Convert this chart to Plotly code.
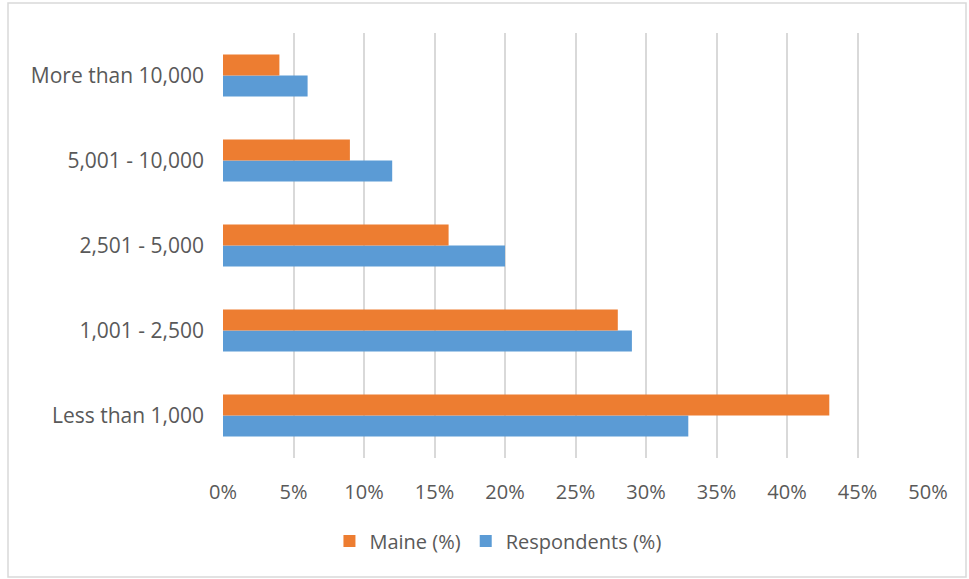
import plotly.graph_objects as go

categories = ["Less than 1,000", "1,001 - 2,500", "2,501 - 5,000", "5,001 - 10,000", "More than 10,000"]
maine_pct = [43, 28, 16, 9, 4]
respondents_pct = [33, 29, 20, 12, 6]
tick_vals = [0, 5, 10, 15, 20, 25, 30, 35, 40, 45, 50]
tick_text = [f"{v}%" for v in tick_vals]

ORANGE = "#ED7D31"
BLUE = "#5B9BD5"
TEXT = "#595959"
GRID = "#D9D9D9"
FONT = "Open Sans, Noto Sans, sans-serif"

fig = go.Figure()
fig.add_trace(go.Bar(
    y=categories, x=respondents_pct, orientation="h",
    name="Respondents (%)", marker=dict(color=BLUE, line=dict(width=0)),
))
fig.add_trace(go.Bar(
    y=categories, x=maine_pct, orientation="h",
    name="Maine (%)", marker=dict(color=ORANGE, line=dict(width=0)),
))

W, H = 969, 579
L, R, T, B = 223, 41, 33, 121
pw, ph = W - L - R, H - T - B

def px_x(x):
    return (x - L) / pw

def px_y(y):
    return (H - B - y) / ph

fig.update_layout(
    width=W, height=H,
    margin=dict(l=L, r=R, t=T, b=B),
    paper_bgcolor="white", plot_bgcolor="white",
    barmode="group", bargap=0.505, bargroupgap=0,
    font=dict(family=FONT, size=20, color=TEXT),
    showlegend=True,
    legend=dict(
        orientation="h", traceorder="reversed",
        x=0.39, xanchor="center", y=px_y(541), yanchor="middle",
        font=dict(size=20, color=TEXT), itemwidth=30,
    ),
    xaxis=dict(
        range=[0, 50], tickvals=tick_vals, ticktext=tick_text,
        tickfont=dict(size=20),
        showgrid=True, gridcolor=GRID, gridwidth=2,
        zeroline=False, showline=False, ticks="",
        ticklabelstandoff=20, fixedrange=True,
    ),
    yaxis=dict(
        categoryorder="array", categoryarray=categories,
        tickfont=dict(size=21),
        showgrid=False, zeroline=False, showline=False, ticks="",
        ticklabelstandoff=18, fixedrange=True,
    ),
    shapes=[dict(
        type="rect", xref="paper", yref="paper",
        x0=px_x(8), x1=px_x(966), y0=px_y(577), y1=px_y(3),
        line=dict(color=GRID, width=1.5), fillcolor="rgba(0,0,0,0)", layer="below",
    )],
)

fig.write_html("out.html")
